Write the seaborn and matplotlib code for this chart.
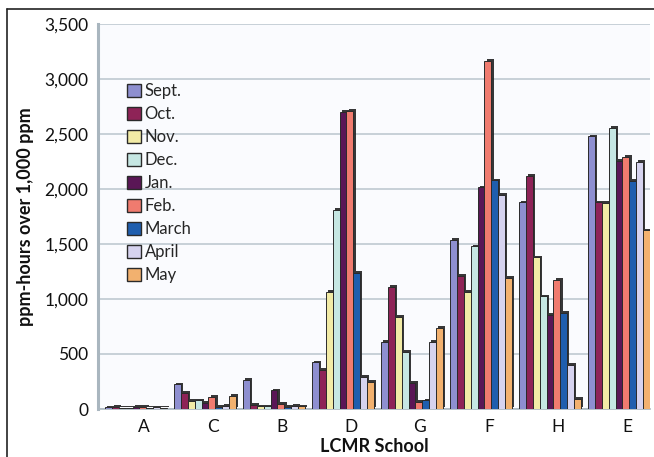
import matplotlib
matplotlib.use("Agg")
import matplotlib.pyplot as plt
import matplotlib.patheffects as pe
import matplotlib.transforms as mtransforms
from matplotlib.lines import Line2D
from matplotlib.ticker import FuncFormatter, FixedLocator
import seaborn as sns
import pandas as pd

schools = ["A", "C", "B", "D", "G", "F", "H", "E"]
months = ["Sept.", "Oct.", "Nov.", "Dec.", "Jan.", "Feb.", "March", "April", "May"]

sept = [15, 225, 265, 425, 610, 1535, 1880, 2480]
octo = [20, 145, 35, 355, 1110, 1210, 2120, 1880]
nov = [10, 75, 25, 1065, 835, 1065, 1380, 1875]
dec = [10, 80, 25, 1810, 520, 1480, 1025, 2555]
jan = [20, 55, 170, 2700, 235, 2015, 855, 2255]
feb = [20, 110, 50, 2710, 65, 3165, 1175, 2290]
march = [10, 20, 20, 1235, 80, 2080, 875, 2075]
april = [15, 27, 30, 290, 610, 1945, 400, 2245]
may = [10, 120, 25, 245, 735, 1190, 90, 1625]

series = [sept, octo, nov, dec, jan, feb, march, april, may]
colors = ["#8E8FD0", "#8E2357", "#F2EBA6", "#C6E7E3", "#5A1656",
          "#F07B6F", "#1F5EAE", "#D6D3EF", "#F2B16F"]

rows = []
for m, vals in zip(months, series):
    for s, v in zip(schools, vals):
        rows.append({"School": s, "Month": m, "value": v})
df = pd.DataFrame(rows)

sns.set_style("white")
plt.rcParams["font.family"] = ["Lato", "DejaVu Sans"]

W, H = 654, 457
fig = plt.figure(figsize=(W / 100, H / 100), dpi=100)
ax = fig.add_axes([98 / W, 48 / H, 552 / W, 385 / H])
ax.set_facecolor("#FAFBFE")

sns.barplot(data=df, x="School", y="value", hue="Month", order=schools,
            hue_order=months, palette=colors, width=0.9, saturation=1,
            edgecolor="#2a2a2a", linewidth=0.7, ax=ax, zorder=3)

for p in ax.patches:
    p.set_path_effects([pe.SimplePatchShadow(offset=(1.6, 1.2), shadow_rgbFace="#222222", alpha=0.9),
                        pe.Normal()])

ax.set_xlim(-0.55, 7.45)
ax.set_ylim(0, 3500)
ax.set_yticks(range(0, 3501, 500))
ax.yaxis.set_major_formatter(FuncFormatter(lambda v, _: f"{int(v):,}"))
ax.grid(axis="y", color="#B9C5CD", linewidth=1.1, zorder=0)
ax.set_axisbelow(True)

ax.xaxis.set_minor_locator(FixedLocator([k - 0.55 for k in range(9)]))
ax.tick_params(axis="x", which="major", length=0, labelsize=12.5, pad=7, colors="#111111")
ax.tick_params(axis="x", which="minor", length=4, width=1, color="#9aa5ad", direction="out")
ax.tick_params(axis="y", length=4, width=1, color="#9aa5ad", labelsize=12.5, pad=3, labelcolor="#111111")
offset = mtransforms.ScaledTranslation(8 / 100, 0, fig.dpi_scale_trans)
for lbl in ax.get_xticklabels():
    lbl.set_transform(lbl.get_transform() + offset)

for side in ["top", "right"]:
    ax.spines[side].set_visible(False)
ax.spines["left"].set_color("#A9B6BF")
ax.spines["left"].set_linewidth(2.2)
ax.spines["bottom"].set_color("#A9B6BF")
ax.spines["bottom"].set_linewidth(1.2)

ax.set_xlabel("LCMR School", fontsize=13, fontweight="bold", labelpad=2, color="#111111")
ax.set_ylabel("ppm-hours over 1,000 ppm", fontsize=13, fontweight="bold", labelpad=7, color="#111111")

handles, labels = ax.get_legend_handles_labels()
leg = ax.legend(handles, labels, loc="upper left",
                bbox_to_anchor=(127 / W, 1 - 83 / H), bbox_transform=fig.transFigure,
                frameon=False, fontsize=12, handlelength=0.85, handleheight=0.85,
                handletextpad=0.2, labelspacing=0.42, borderpad=0, borderaxespad=0)
for h in leg.legend_handles:
    h.set_edgecolor("#2a2a2a")
    h.set_linewidth(1.0)
    h.set_path_effects([])

fig.add_artist(Line2D([7 / W, 1], [1 - 9 / H, 1 - 9 / H], transform=fig.transFigure,
                      color="#222222", linewidth=1.2))
fig.add_artist(Line2D([7 / W, 7 / W], [0, 1 - 9 / H], transform=fig.transFigure,
                      color="#222222", linewidth=1.2))

fig.savefig("out.png", dpi=100, facecolor="white")
